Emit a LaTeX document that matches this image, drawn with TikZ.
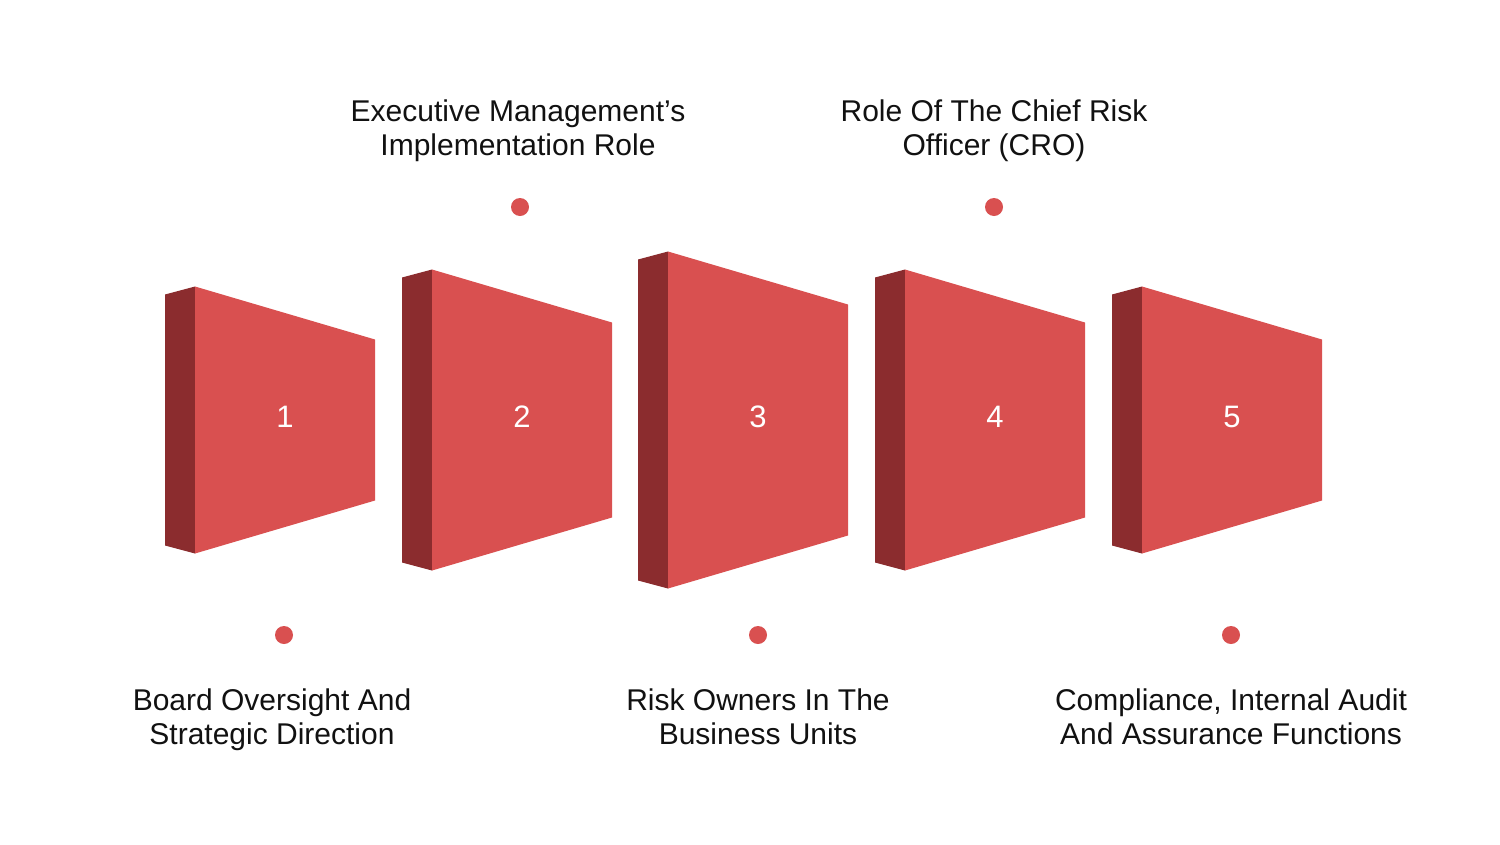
\documentclass[tikz,border=0pt]{standalone}
\usepackage{fontspec}
\setmainfont{Liberation Sans}
\usepackage{tikz}
\usetikzlibrary{positioning}
\definecolor{wallred}{RGB}{217,80,80}
\definecolor{walldark}{RGB}{139,44,46}
\definecolor{textblack}{RGB}{17,17,17}
\tikzset{
  face/.style={fill=wallred, draw=none},
  side/.style={fill=walldark, draw=none},
  num/.style={text=white, font=\fontsize{31}{31}\selectfont, inner sep=0pt},
  dot/.style={circle, fill=wallred, minimum size=18pt, inner sep=0pt},
  lbl/.style={align=center, text=textblack, inner sep=0pt,
    font=\fontsize{30}{34}\selectfont}
}
\begin{document}
\begin{tikzpicture}[x=1pt,y=-1pt]
        \fill[white] (0,0) rectangle (1500,844);
        \useasboundingbox (0,0) rectangle (1500,844);
        % the five walls
        \foreach \x/\h/\n in {165/133.5/1, 402/150.5/2, 638/168.5/3, 875/150.5/4, 1112/133.5/5} {
          \fill[side] (\x,420-\h+8) -- (\x+30,420-\h) -- (\x+30,420+\h) -- (\x,420+\h-8) -- cycle;
          \fill[face] (\x+30,420-\h) -- (\x+210,420-\h+53) -- (\x+210,420+\h-53) -- (\x+30,420+\h) -- cycle;
          \node[num] (n\n) at (\x+120,417) {\n};
        }
        % markers
        \node[dot] (d1) at (284,635) {};
        \node[dot] (d2) at (520,207) {};
        \node[dot] (d3) at (758,635) {};
        \node[dot] (d4) at (994,207) {};
        \node[dot] (d5) at (1231,635) {};
        % texts
        \node[lbl, below=44.5pt of d1, xshift=-12pt] (t1) {Board Oversight And\\Strategic Direction};
        \node[lbl, above=36pt of d2, xshift=-2pt] (t2) {Executive Management’s\\Implementation Role};
        \node[lbl, below=44.5pt of d3] (t3) {Risk Owners In The\\Business Units};
        \node[lbl, above=36pt of d4] (t4) {Role Of The Chief Risk\\Officer (CRO)};
        \node[lbl, below=44.5pt of d5] (t5) {Compliance, Internal Audit\\And Assurance Functions};
\end{tikzpicture}
\end{document}
